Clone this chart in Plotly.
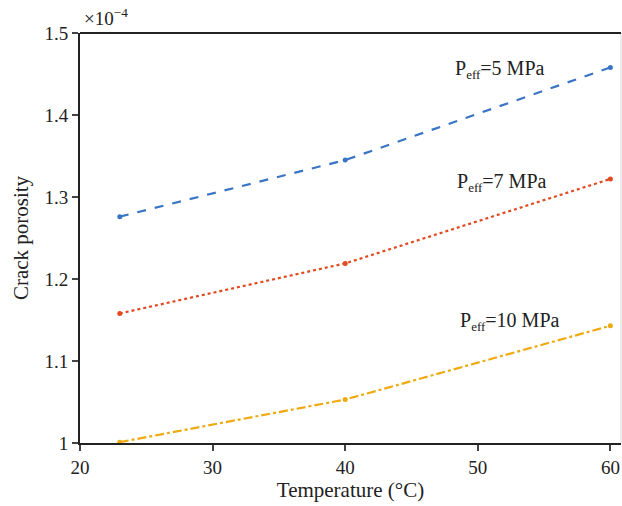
import plotly.graph_objects as go

temps = [23, 40, 60]
p5 = [1.276, 1.345, 1.458]
p7 = [1.158, 1.219, 1.322]
p10 = [1.001, 1.053, 1.143]
labels = ["P<sub><span style='font-size:13px'>eff</span></sub>=5 MPa",
          "P<sub><span style='font-size:13px'>eff</span></sub>=7 MPa",
          "P<sub><span style='font-size:13px'>eff</span></sub>=10 MPa"]
colors = ["#3a74c4", "#e2491f", "#eeaa0e"]
dashes = ["dash", "dot", "dashdot"]
xticks = [20, 30, 40, 50, 60]
yticks = [1.0, 1.1, 1.2, 1.3, 1.4, 1.5]
ytick_text = ["1", "1.1", "1.2", "1.3", "1.4", "1.5"]

FONT = "Liberation Serif"
fig = go.Figure()
for ys, c, d in zip([p5, p7, p10], colors, dashes):
    fig.add_trace(go.Scatter(x=temps, y=ys, mode="lines+markers",
                             line=dict(color=c, width=2.2, dash=d),
                             marker=dict(color=c, size=5), showlegend=False))

label_xy = [(51.7, 1.455), (51.8, 1.318), (52.4, 1.148)]
for (lx, ly), t in zip(label_xy, labels):
    fig.add_annotation(x=lx, y=ly, text=t, showarrow=False,
                       font=dict(family=FONT, size=20, color="#222"),
                       xanchor="center", yanchor="middle")

fig.add_annotation(xref="paper", yref="paper", x=0.003, y=1.005, text="×10<sup>−4</sup>",
                   showarrow=False, xanchor="left", yanchor="bottom",
                   font=dict(family=FONT, size=19, color="#222"))

fig.add_shape(type="line", xref="paper", yref="paper", x0=1, x1=1, y0=0, y1=1,
              line=dict(color="#d8d8d8", width=1))

fig.update_layout(
    width=622, height=506,
    margin=dict(l=80, r=1, t=33, b=63),
    plot_bgcolor="white", paper_bgcolor="white",
    font=dict(family=FONT, size=19, color="#222"),
    xaxis=dict(range=[20, 60.8], tickvals=xticks, ticks="outside", ticklen=6, tickwidth=2,
               showline=True, linecolor="#222", linewidth=2, showgrid=False, zeroline=False,
               tickfont=dict(family=FONT, size=19),
               title=dict(text="Temperature (°C)", font=dict(family=FONT, size=21), standoff=6)),
    yaxis=dict(range=[1.0, 1.5], tickvals=yticks, ticktext=ytick_text, ticks="outside",
               ticklen=6, tickwidth=2, showline=True, linecolor="#222", linewidth=2,
               showgrid=False, zeroline=False,
               tickfont=dict(family=FONT, size=19),
               title=dict(text="Crack porosity", font=dict(family=FONT, size=21), standoff=10)),
)
fig.add_shape(type="line", xref="paper", yref="paper", x0=0, x1=1, y0=1, y1=1,
              line=dict(color="#222", width=2))
fig.write_html("out.html")
